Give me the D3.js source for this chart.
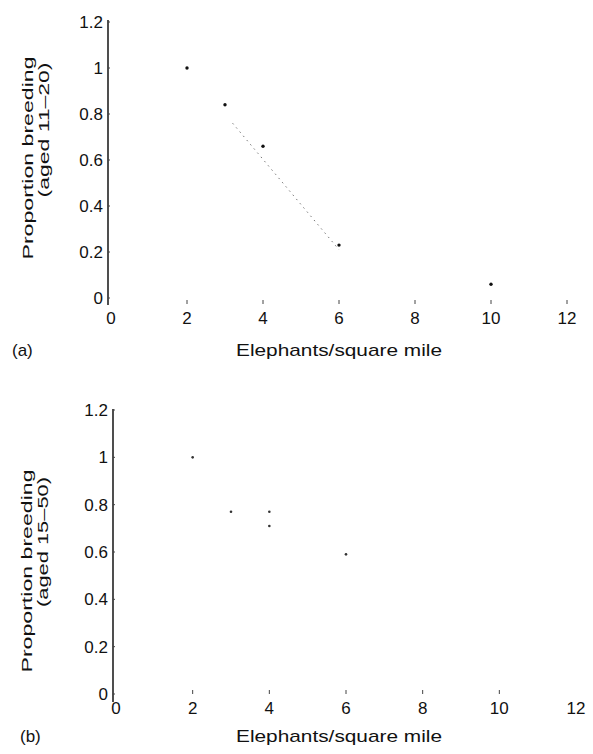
<!DOCTYPE html>
<html>
<head>
<meta charset="utf-8">
<script src="https://cdn.jsdelivr.net/npm/d3@7"></script>
<style>
  html, body { margin: 0; padding: 0; background: #fff; }
  svg { display: block; }
  text { font-family: "Liberation Sans", Arial, sans-serif; fill: #111; }
</style>
</head>
<body>
<svg id="chart" width="593" height="754"></svg>
<script>
// ---------- data ----------
const xTickValues = [0, 2, 4, 6, 8, 10, 12];
const yTickValues = [0, 0.2, 0.4, 0.6, 0.8, 1, 1.2];
const yTickLabels = ["0", "0.2", "0.4", "0.6", "0.8", "1", "1.2"];

// panel (a): proportion breeding aged 11-20
const densityA  = [2, 3, 4, 6, 10];
const breedingA = [1.0, 0.84, 0.66, 0.23, 0.06];
// faint dotted fitted line in (a), end points
const fitDensityA  = [3.2, 6];
const fitBreedingA = [0.76, 0.21];

// panel (b): proportion breeding aged 15-50
const densityB  = [2, 3, 4, 4, 6];
const breedingB = [1.0, 0.77, 0.77, 0.71, 0.59];

const xTitle = "Elephants/square mile";
const yTitle1 = "Proportion breeding";
const yTitleA2 = "(aged 11\u201320)";
const yTitleB2 = "(aged 15\u201350)";

// ---------- layout ----------
const svg = d3.select("#chart");

const panels = [
  {
    label: "(a)", xs: densityA, ys: breedingA, yTitle2: yTitleA2,
    axisX: 108, axisTop: 20, axisBottom: 305,
    y0: 298, yTop: 22, x0: 111, x12: 567,
    tickLabelY: 318, tickMarkTop: 300, tickMarkLen: 4,
    markTicks: [2, 4, 6, 8, 10, 12],
    titleY: 350, labelX: 12,
    yT1: {x: 28, c: 158, len: 203}, yT2: {x: 44, c: 130, len: 135},
    r: 1.7, fill: "#111", fit: true
  },
  {
    label: "(b)", xs: densityB, ys: breedingB, yTitle2: yTitleB2,
    axisX: 113, axisTop: 409, axisBottom: 702,
    y0: 694, yTop: 410, x0: 116, x12: 576,
    tickLabelY: 708, tickMarkTop: 690, tickMarkLen: 4,
    markTicks: [2, 4, 6, 8, 10],
    titleY: 736, labelX: 20,
    yT1: {x: 27, c: 571, len: 203}, yT2: {x: 43, c: 542, len: 130},
    r: 1.3, fill: "#333", fit: false
  }
];

panels.forEach(p => {
  const g = svg.append("g");
  const x = d3.scaleLinear().domain([0, 12]).range([p.x0, p.x12]);
  const y = d3.scaleLinear().domain([0, 1.2]).range([p.y0, p.yTop]);

  // y axis line
  g.append("line")
    .attr("x1", p.axisX).attr("x2", p.axisX)
    .attr("y1", p.axisTop).attr("y2", p.axisBottom)
    .attr("stroke", "#222").attr("stroke-width", 1.6);

  // y tick labels
  g.selectAll(".ytl").data(yTickValues).join("text")
    .attr("x", p.axisX - 5)
    .attr("y", d => y(d))
    .attr("dy", "0.36em")
    .attr("text-anchor", "end")
    .attr("font-size", 17)
    .text((d, i) => yTickLabels[i]);

  // small y ticks on axis
  g.selectAll(".ytk").data(yTickValues).join("line")
    .attr("x1", p.axisX).attr("x2", p.axisX + 2)
    .attr("y1", d => y(d)).attr("y2", d => y(d))
    .attr("stroke", "#444").attr("stroke-width", 1);

  // x tick marks (no axis line)
  g.selectAll(".xtk").data(p.markTicks).join("line")
    .attr("x1", d => x(d)).attr("x2", d => x(d))
    .attr("y1", p.tickMarkTop).attr("y2", p.tickMarkTop + p.tickMarkLen)
    .attr("stroke", "#444").attr("stroke-width", 1);

  // x tick labels
  g.selectAll(".xtl").data(xTickValues).join("text")
    .attr("x", d => x(d))
    .attr("y", p.tickLabelY)
    .attr("dy", "0.36em")
    .attr("text-anchor", "middle")
    .attr("font-size", 17)
    .text(d => d);

  // fitted dotted line
  if (p.fit) {
    const line = d3.line().x(d => x(d[0])).y(d => y(d[1]));
    g.append("path")
      .attr("d", line(d3.zip(fitDensityA, fitBreedingA)))
      .attr("fill", "none")
      .attr("stroke", "#777")
      .attr("stroke-width", 1)
      .attr("stroke-dasharray", "1.5,4");
  }

  // points
  g.selectAll(".pt").data(d3.zip(p.xs, p.ys)).join("circle")
    .attr("cx", d => x(d[0]))
    .attr("cy", d => y(d[1]))
    .attr("r", p.r)
    .attr("fill", p.fill);

  // x title
  g.append("text")
    .attr("x", 236).attr("y", p.titleY)
    .attr("dy", "0.36em")
    .attr("font-size", 17)
    .attr("textLength", 206)
    .attr("lengthAdjust", "spacingAndGlyphs")
    .text(xTitle);

  // panel label
  g.append("text")
    .attr("x", p.labelX).attr("y", p.titleY)
    .attr("dy", "0.36em")
    .attr("font-size", 17)
    .text(p.label);

  // y titles (rotated)
  [[yTitle1, p.yT1], [p.yTitle2, p.yT2]].forEach(([t, o]) => {
    g.append("text")
      .attr("transform", `translate(${o.x},${o.c}) rotate(-90)`)
      .attr("text-anchor", "middle")
      .attr("dy", "0.36em")
      .attr("font-size", 15)
      .attr("textLength", o.len)
      .attr("lengthAdjust", "spacingAndGlyphs")
      .text(t);
  });
});
</script>
</body>
</html>
